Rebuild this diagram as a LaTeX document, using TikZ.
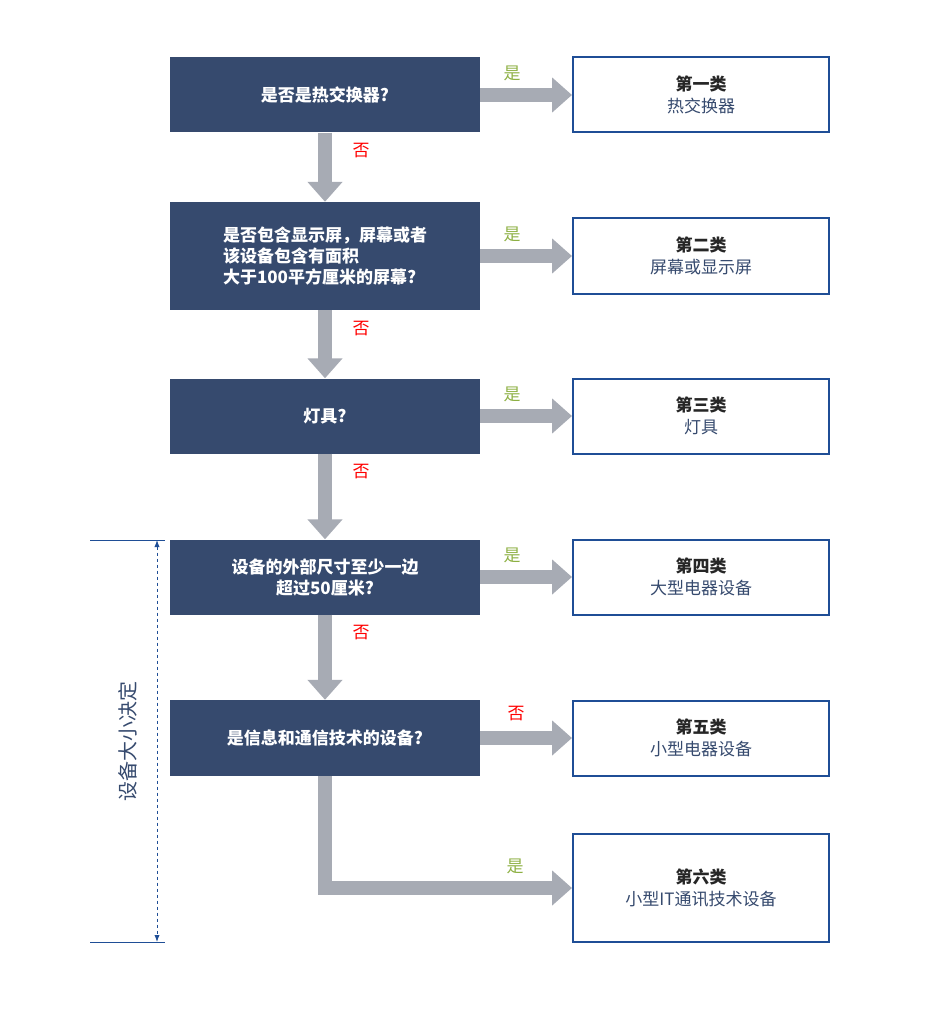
\documentclass[tikz,border=0pt]{standalone}
\usepackage{fontspec}
\setmainfont{Noto Sans CJK SC}
\usetikzlibrary{arrows.meta,positioning}
\definecolor{navy}{HTML}{364A6E}
\definecolor{frame}{HTML}{1F4E96}
\definecolor{arrowgray}{HTML}{A7ABB4}
\definecolor{yesgreen}{HTML}{8DB043}
\tikzset{
  x=1pt, y=-1pt,
  question/.style={fill=navy, text=white, minimum width=310pt, font=\fontsize{17}{21}\selectfont, inner sep=0pt},
  category/.style={draw=frame, line width=2pt, fill=white, minimum width=256pt, text=navy, font=\fontsize{17}{22}\selectfont, align=center, inner sep=0pt},
  flow/.style={draw=arrowgray, line width=14pt, -{Triangle[width=34pt,length=20pt]}},
  yes/.style={text=yesgreen, font=\fontsize{17}{20}\selectfont},
  no/.style={text=red, font=\fontsize{17}{20}\selectfont}
}
\newcommand{\cattext}[2]{\textbf{\textcolor{black!85}{#1}}\\#2}
\begin{document}
\begin{tikzpicture}
\useasboundingbox (0,0) rectangle (936,1024);
% questions
\node[question, minimum height=75pt] (q1) at (325,95) {\textbf{是否是热交换器?}};
\node[question, minimum height=108pt, align=left] (q2) at (325,256) {\textbf{是否包含显示屏，屏幕或者}\\\textbf{该设备包含有面积}\\\textbf{大于100平方厘米的屏幕?}};
\node[question, minimum height=75pt] (q3) at (325,416) {\textbf{灯具?}};
\node[question, minimum height=75pt, align=center] (q4) at (325,577) {\textbf{设备的外部尺寸至少一边}\\\textbf{超过50厘米?}};
\node[question, minimum height=76pt] (q5) at (325,738) {\textbf{是信息和通信技术的设备?}};
% categories
\node[category, minimum height=75pt] (c1) at (701,95) {\cattext{第一类}{热交换器}};
\node[category, minimum height=75pt] (c2) at (701,256) {\cattext{第二类}{屏幕或显示屏}};
\node[category, minimum height=75pt] (c3) at (701,416) {\cattext{第三类}{灯具}};
\node[category, minimum height=75pt] (c4) at (701,577) {\cattext{第四类}{大型电器设备}};
\node[category, minimum height=75pt] (c5) at (701,738) {\cattext{第五类}{小型电器设备}};
\node[category, minimum height=108pt] (c6) at (701,888) {\cattext{第六类}{小型IT通讯技术设备}};
% arrows
\foreach \a/\b in {q1/q2,q2/q3,q3/q4,q4/q5}
  \draw[flow] (\a.south) -- (\b.north);
\foreach \a/\b in {q1/c1,q2/c2,q3/c3,q4/c4,q5/c5}
  \draw[flow] (\a.east) -- (\b.west);
\draw[flow] (q5.south) |- (c6.west);
% labels
\foreach \a in {q1,q2,q3,q4}
  \node[yes] at ([shift={(32,-22)}]\a.east) {是};
\node[no] at ([shift={(36,-24)}]q5.east) {否};
\node[yes] at (515,866) {是};
\foreach \a in {q1,q2,q3,q4}
  \node[no] at ([shift={(36,18)}]\a.south) {否};
% size bracket
\coordinate (top) at (90,540);
\coordinate (bot) at (90,942);
\draw[frame, line width=1pt] (top) -- ++(75,0);
\draw[frame, line width=1pt] (bot) -- ++(75,0);
\draw[frame, line width=1pt, dashed, {Latex[length=7pt]}-{Latex[length=7pt]}] (157,540) -- (157,942);
\node[text=navy, rotate=90, font=\fontsize{20}{24}\selectfont] (size) at (128,741) {设备大小决定};
\end{tikzpicture}
\end{document}
